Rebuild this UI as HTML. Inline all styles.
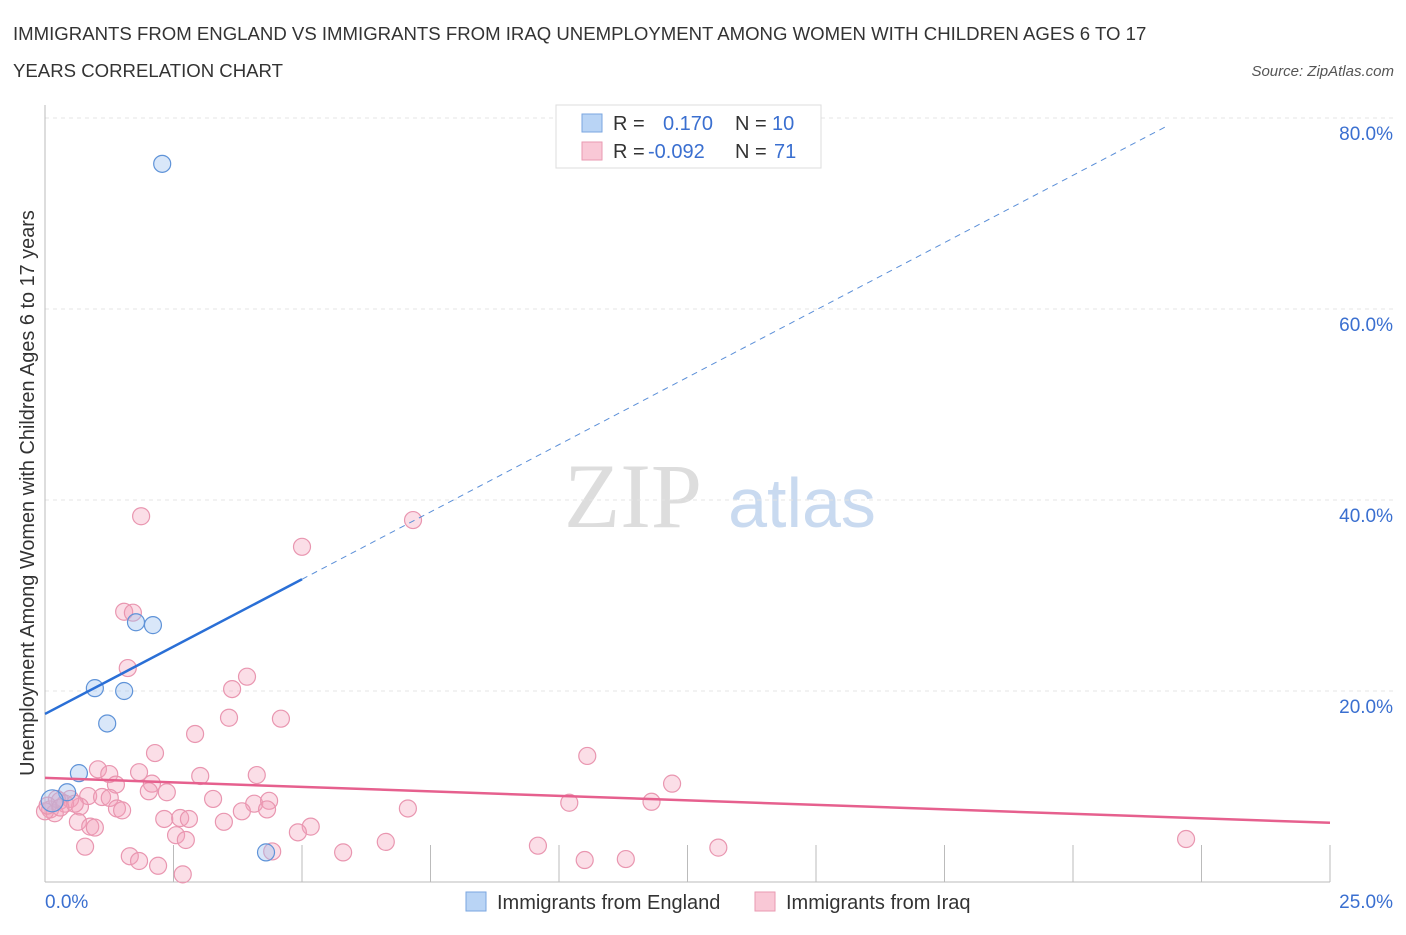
<!DOCTYPE html>
<html><head><meta charset="utf-8"><style>
body{margin:0;background:#fff;font-family:"Liberation Sans",sans-serif;}
svg text{font-family:"Liberation Sans",sans-serif;}
</style></head><body>
<svg id="c" width="1406" height="930" xmlns="http://www.w3.org/2000/svg">
<text x="13" y="40" font-size="18.6" fill="#333">IMMIGRANTS FROM ENGLAND VS IMMIGRANTS FROM IRAQ UNEMPLOYMENT AMONG WOMEN WITH CHILDREN AGES 6 TO 17</text>
<text x="13" y="77" font-size="18.6" fill="#333">YEARS CORRELATION CHART</text>
<text x="1394" y="76" font-size="15" fill="#555" font-style="italic" text-anchor="end">Source: ZipAtlas.com</text>
<text x="633" y="527" font-size="92" fill="#ddd" text-anchor="middle" style="font-family:'Liberation Serif',serif">ZIP</text>
<text x="802" y="527" font-size="70" fill="#c9daf0" text-anchor="middle">atlas</text>
<text transform="translate(34,493) rotate(-90)" font-size="19.9" fill="#333" text-anchor="middle">Unemployment Among Women with Children Ages 6 to 17 years</text>
<g id="grid"></g><g id="marks"></g>
<g>
<rect x="556" y="105" width="265" height="63" fill="#fff" stroke="#ddd"/>
<rect x="582" y="114" width="20" height="18" fill="#b9d4f5" stroke="#7aa6e0"/>
<rect x="582" y="142" width="20" height="18" fill="#f9c8d6" stroke="#e99ab2"/>
<text x="613" y="130" font-size="20" fill="#333">R =</text><text x="663" y="130" font-size="20" fill="#3a6fd0">0.170</text>
<text x="735" y="130" font-size="20" fill="#333">N =</text><text x="772" y="130" font-size="20" fill="#3a6fd0">10</text>
<text x="613" y="158" font-size="20" fill="#333">R =</text><text x="648" y="158" font-size="20" fill="#3a6fd0">-0.092</text>
<text x="735" y="158" font-size="20" fill="#333">N =</text><text x="774" y="158" font-size="20" fill="#3a6fd0">71</text>
</g>
<g>
<rect x="466" y="892" width="20" height="19" fill="#b9d4f5" stroke="#7aa6e0"/>
<text x="497" y="909" font-size="20" fill="#333">Immigrants from England</text>
<rect x="755" y="892" width="20" height="19" fill="#f9c8d6" stroke="#e99ab2"/>
<text x="786" y="909" font-size="20" fill="#333">Immigrants from Iraq</text>
</g>
</svg>
<script>
const englandX=[2.28,1.77,2.10,0.97,1.54,1.21,0.66,0.43,0.14,4.30];
const englandY=[75.2,27.2,26.9,20.3,20.0,16.6,11.4,9.4,8.5,3.1];
const iraqX=[1.87,7.16,5.0,1.54,1.71,1.61,3.93,3.64,3.58,4.59,2.92,2.14,10.55,1.03,1.25,1.83,3.02,4.12,12.2,1.38,2.08,2.02,2.37,0.84,1.11,1.26,3.27,4.07,4.36,10.2,11.8,0.68,1.40,1.50,3.83,4.32,7.06,0.10,0.29,0.49,0.19,2.32,2.63,2.80,3.48,0.64,0.88,0.97,5.17,4.92,2.55,2.74,0.78,6.63,9.59,13.1,22.2,5.80,4.42,1.65,1.83,2.20,10.5,11.3,2.68,0.39,0.58,0.23,0.0,0.05,0.3];
const iraqY=[38.3,37.9,35.1,28.3,28.2,22.4,21.5,20.2,17.2,17.1,15.5,13.5,13.2,11.8,11.3,11.5,11.1,11.2,10.3,10.2,10.3,9.5,9.4,9.0,8.9,8.8,8.7,8.2,8.5,8.3,8.4,7.9,7.7,7.5,7.4,7.6,7.7,7.6,8.5,8.7,7.2,6.6,6.7,6.6,6.3,6.3,5.8,5.7,5.8,5.2,4.9,4.4,3.7,4.2,3.8,3.6,4.5,3.1,3.2,2.7,2.2,1.7,2.3,2.4,0.8,8.2,8.2,8.7,7.4,8.0,7.8];
const yTicks=[20,40,60,80];
const yTickLabels=["20.0%","40.0%","60.0%","80.0%"];
const englandLine=[17.6,2.82];
const iraqLine=[10.9,-0.188];
const X=v=>45+v/25*1285, Y=v=>882-v/20*191;
const NS="http://www.w3.org/2000/svg";
function mk(p,t,a){const e=document.createElementNS(NS,t);for(const k in a)e.setAttribute(k,a[k]);p.appendChild(e);return e;}
const g=document.getElementById('grid'),m=document.getElementById('marks');
yTicks.forEach((t,i)=>{
 const l=mk(g,'line',{x1:45,x2:1395,y1:Y(t),y2:Y(t),stroke:'#e4e4e4','stroke-dasharray':'4,4'});
 
 
 const tx=mk(g,'text',{x:1393,y:Y(t)+22,'font-size':19,fill:'#3a6fd0','text-anchor':'end'});tx.textContent=yTickLabels[i];
 
 
});
const ax=mk(g,'line',{x1:45,x2:1330,y1:882,y2:882,stroke:'#bbb'});


const ay=mk(g,'line',{x1:45,x2:45,y1:105,y2:882,stroke:'#bbb'});


for(let i=1;i<=10;i++){const t=mk(g,'line',{x1:X(i*2.5),x2:X(i*2.5),y1:845,y2:882,stroke:'#bbb'});
 
 }
const x0=mk(g,'text',{x:45,y:908,'font-size':19,fill:'#3a6fd0'});x0.textContent='0.0%';


const x1=mk(g,'text',{x:1393,y:908,'font-size':19,fill:'#3a6fd0','text-anchor':'end'});x1.textContent='25.0%';


iraqX.forEach((v,i)=>{const c=mk(m,'circle',{cx:X(v),cy:Y(iraqY[i]),r:8.5,fill:'rgba(244,160,185,0.35)',stroke:'#e996b0','stroke-width':1.2});
 
 });
englandX.forEach((v,i)=>{const c=mk(m,'circle',{cx:X(v),cy:Y(englandY[i]),r:i==8?11:8.5,fill:'rgba(160,195,240,0.4)',stroke:'#5f93d8','stroke-width':1.2});
 
 });
const eb=mk(m,'line',{x1:X(0),y1:Y(englandLine[0]),x2:X(5),y2:Y(englandLine[0]+englandLine[1]*5),stroke:'#2a6fd6','stroke-width':2.5});


const ed=mk(m,'line',{x1:X(5),y1:Y(englandLine[0]+englandLine[1]*5),x2:X(21.8),y2:Y(englandLine[0]+englandLine[1]*21.8),stroke:'#5b8fd8','stroke-width':1,'stroke-dasharray':'6,5'});


const il=mk(m,'line',{x1:X(0),y1:Y(iraqLine[0]),x2:X(25),y2:Y(iraqLine[0]+iraqLine[1]*25),stroke:'#e6608e','stroke-width':2.5});


</script>
</body></html>
